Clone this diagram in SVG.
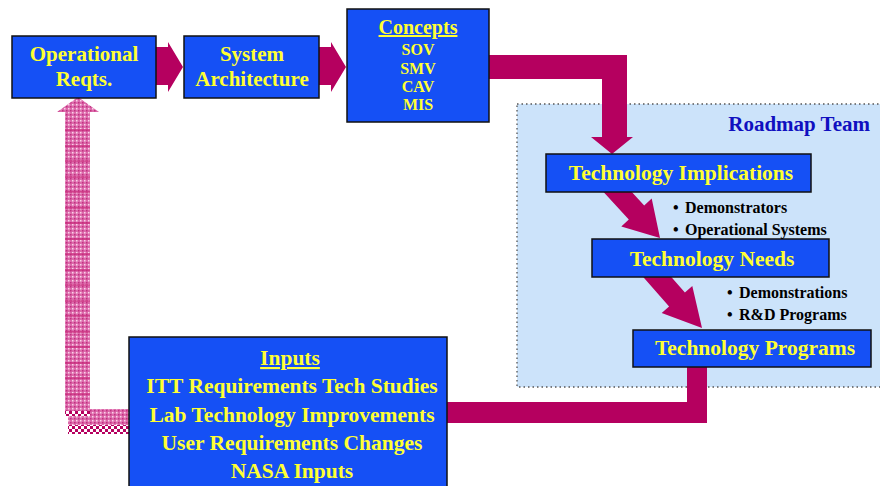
<svg xmlns="http://www.w3.org/2000/svg" width="880" height="486" viewBox="0 0 880 486">
<defs>
<style>
.box{fill:#1550F5;stroke:#111;stroke-width:1.5}
.yt{font-family:"Liberation Serif",serif;font-weight:bold;fill:#FFFF33;text-anchor:middle}
.bt{font-family:"Liberation Serif",serif;font-weight:bold;fill:#000;font-size:16px}
.mag{fill:#B5005F}
</style>
<pattern id="pk" width="4" height="4" patternUnits="userSpaceOnUse">
<rect width="4" height="4" fill="#DC6AAB"/>
<rect x="0" y="0" width="1.5" height="1.5" fill="#FBD3E8"/>
<rect x="2" y="2" width="1.5" height="1.5" fill="#C2307F"/>
</pattern>
<pattern id="ck" width="6" height="6" patternUnits="userSpaceOnUse">
<rect width="6" height="6" fill="#FFFFFF"/>
<rect x="0" y="0" width="3" height="3" fill="#B5005F"/>
<rect x="3" y="3" width="3" height="3" fill="#B5005F"/>
</pattern>
</defs>
<rect width="880" height="486" fill="#FFFFFF"/>

<g id="roadmap-team">
<rect x="517" y="104" width="380" height="283" fill="#CCE3FA" stroke="#555" stroke-width="1.3" stroke-dasharray="1.5 3"/>
<text x="870" y="131" font-family="Liberation Serif, serif" font-weight="bold" font-size="21" fill="#1010C0" text-anchor="end">Roadmap Team</text>
</g>

<g id="connectors">
<polygon class="mag" points="156,47 168,47 168,42 183,67 168,92 168,85 156,85"/>
<polygon class="mag" points="319,47 331,47 331,42 346,67 331,92 331,85 319,85"/>
<polygon class="mag" points="489,55 627,55 627,137 633,137 612,154 591,137 602,137 602,79 489,79"/>
<polygon class="mag" points="598.9,187.1 614.3,172.9 644.2,205.4 651.7,198.5 660,238 621.3,226.5 628.8,219.6"/>
<polygon class="mag" points="638.8,271.9 654.6,258.1 684.9,292.6 692.3,286.1 702,328 661.7,312.9 669.1,306.4"/>
<polygon class="mag" points="687,360 707,360 707,423 440,423 440,402 687,402"/>
<g id="pink-feedback">
<polygon fill="url(#pk)" points="65,112 57,112 78,97 99,112 90,112 90,409 132,409 132,425 68,425 68,416 65,416"/>
<rect x="68" y="425" width="64" height="9" fill="url(#ck)"/>
<rect x="65" y="411" width="25" height="5" fill="url(#ck)"/>
<g stroke="#C8287A" stroke-width="1.2">
<line x1="65" y1="130" x2="90" y2="130"/><line x1="65" y1="146" x2="90" y2="146"/>
<line x1="65" y1="161" x2="90" y2="161"/><line x1="65" y1="177" x2="90" y2="177"/>
<line x1="65" y1="192" x2="90" y2="192"/><line x1="65" y1="208" x2="90" y2="208"/>
<line x1="65" y1="223" x2="90" y2="223"/><line x1="65" y1="239" x2="90" y2="239"/>
<line x1="65" y1="254" x2="90" y2="254"/><line x1="65" y1="270" x2="90" y2="270"/>
<line x1="65" y1="285" x2="90" y2="285"/><line x1="65" y1="301" x2="90" y2="301"/>
<line x1="65" y1="316" x2="90" y2="316"/><line x1="65" y1="332" x2="90" y2="332"/>
<line x1="65" y1="347" x2="90" y2="347"/><line x1="65" y1="363" x2="90" y2="363"/>
<line x1="65" y1="378" x2="90" y2="378"/><line x1="65" y1="394" x2="90" y2="394"/>
</g>
</g>
</g>

<g id="operational-reqts">
<rect class="box" x="12" y="36" width="144" height="62"/>
<text class="yt" x="84" y="61" font-size="21">Operational</text>
<text class="yt" x="84" y="86" font-size="21">Reqts.</text>
</g>

<g id="system-architecture">
<rect class="box" x="184" y="36" width="135" height="62"/>
<text class="yt" x="252" y="61" font-size="21">System</text>
<text class="yt" x="252" y="86" font-size="21">Architecture</text>
</g>

<g id="concepts">
<rect class="box" x="347" y="9" width="142" height="113"/>
<text class="yt" x="418" y="34" font-size="20" text-decoration="underline">Concepts</text>
<text class="yt" x="418" y="55" font-size="16">SOV</text>
<text class="yt" x="418" y="73.5" font-size="16">SMV</text>
<text class="yt" x="418" y="92" font-size="16">CAV</text>
<text class="yt" x="418" y="110" font-size="16">MIS</text>
</g>

<g id="technology-implications">
<rect class="box" x="546" y="154" width="265" height="38"/>
<text class="yt" x="681" y="180" font-size="21.5">Technology Implications</text>
</g>

<g id="technology-needs">
<rect class="box" x="592" y="239" width="237" height="38"/>
<text class="yt" x="712" y="266" font-size="21.5">Technology Needs</text>
</g>

<g id="technology-programs">
<rect class="box" x="633" y="330" width="238" height="37"/>
<text class="yt" x="755" y="355" font-size="21.5">Technology Programs</text>
</g>

<g id="bullets">
<text class="bt" x="673" y="213">•</text><text class="bt" x="685" y="213">Demonstrators</text>
<text class="bt" x="673" y="235">•</text><text class="bt" x="685" y="235">Operational Systems</text>
<text class="bt" x="727" y="298">•</text><text class="bt" x="739" y="298">Demonstrations</text>
<text class="bt" x="727" y="320">•</text><text class="bt" x="739" y="320">R&amp;D Programs</text>
</g>

<g id="inputs">
<rect class="box" x="129" y="337" width="318" height="155"/>
<text class="yt" x="290" y="365" font-size="21.5" text-decoration="underline">Inputs</text>
<text class="yt" x="292" y="393" font-size="21.5">ITT Requirements Tech Studies</text>
<text class="yt" x="292" y="422" font-size="21.5">Lab Technology Improvements</text>
<text class="yt" x="292" y="450" font-size="21.5">User Requirements Changes</text>
<text class="yt" x="292" y="478" font-size="21.5">NASA Inputs</text>
</g>
</svg>
